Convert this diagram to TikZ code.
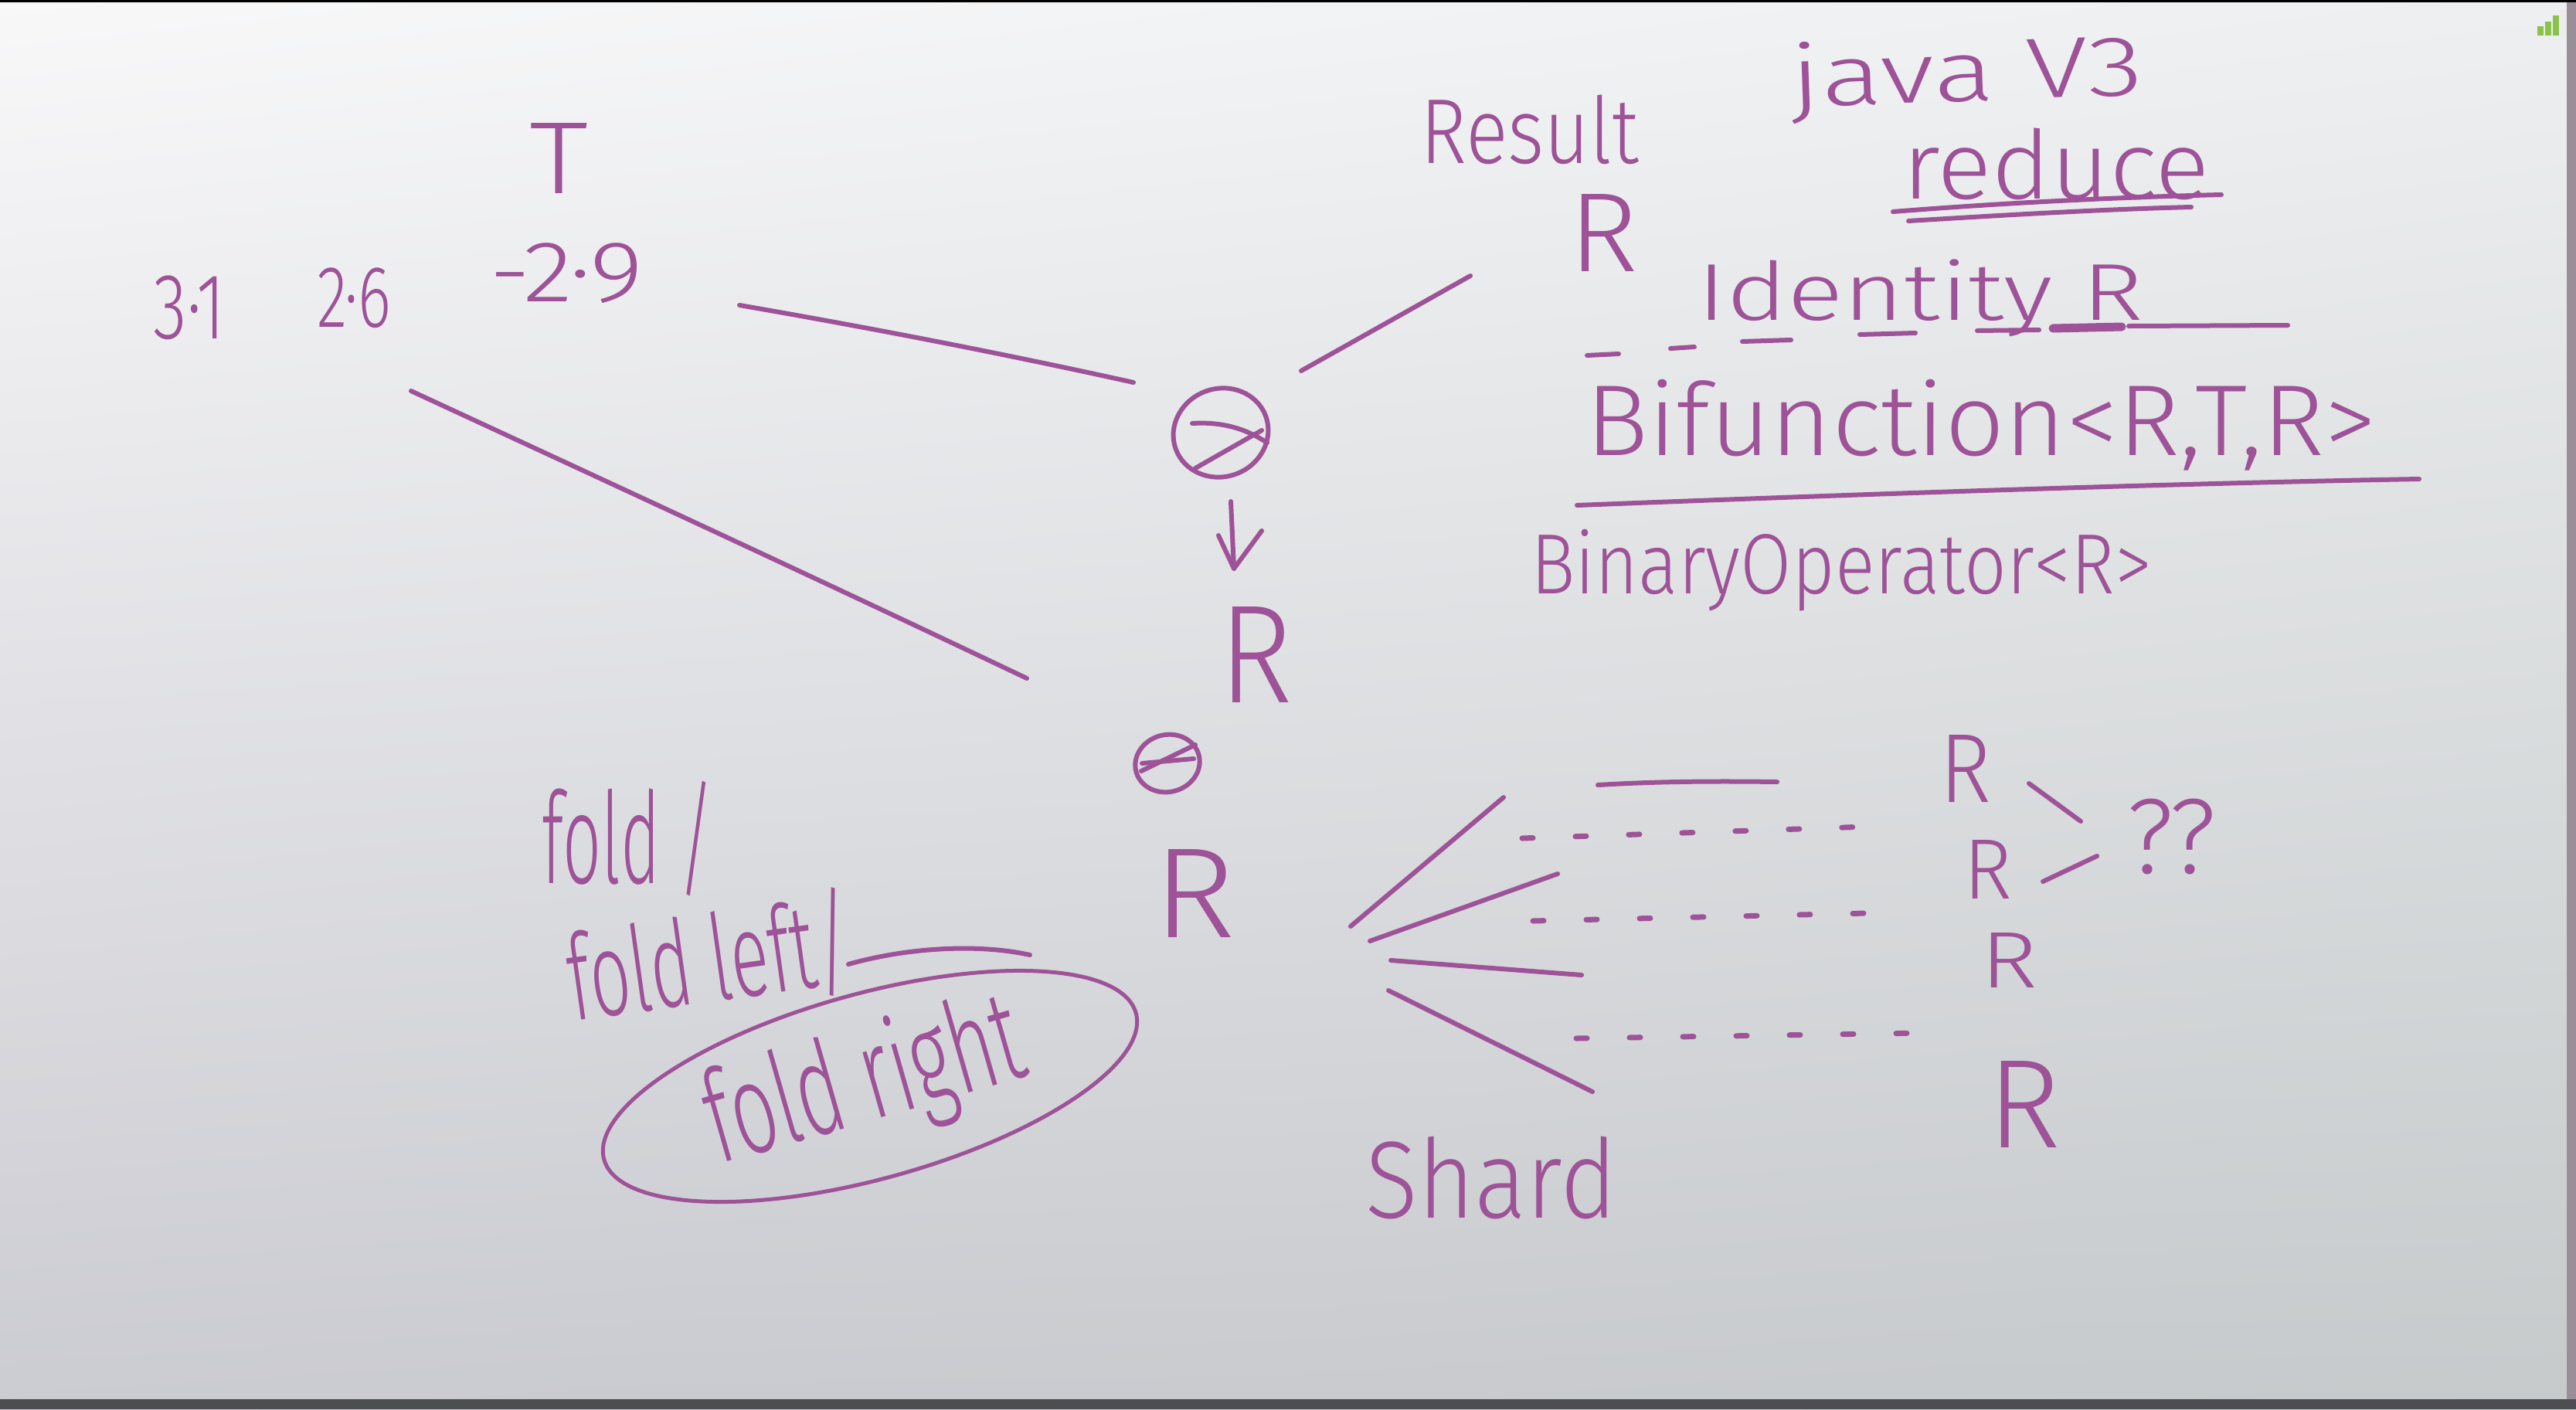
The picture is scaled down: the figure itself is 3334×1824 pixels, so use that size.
\documentclass[tikz,border=0pt]{standalone}
\usepackage{fontspec}
\usepackage{graphicx}
\usetikzlibrary{shadings}
\newfontfamily\handfont{Fira Sans Light}
\definecolor{ink}{HTML}{9E5298}
\definecolor{bgTL}{HTML}{F8F8F9}
\definecolor{bgTR}{HTML}{EDEFF0}
\definecolor{bgBL}{HTML}{CBCBD2}
\definecolor{bgBR}{HTML}{C6CACB}
\definecolor{edgeband}{HTML}{9A8F99}
\definecolor{bottombar}{HTML}{4C4E51}
\definecolor{signal}{HTML}{8BC34A}
\newcommand\handbox[3]{\resizebox*{#1pt}{#2pt}{#3}}
\begin{document}
\begin{tikzpicture}[x=1pt,y=-1pt,
  txt/.style={text=ink, inner sep=0pt, font=\handfont\fontsize{100}{110}\selectfont},
  stroke/.style={draw=ink, line width=6pt, line cap=round, line join=round},
  dotline/.style={draw=ink, line width=7pt, line cap=round, dash pattern=on 14pt off 55pt}]
\useasboundingbox (0,0) rectangle (3334,1824);
% whiteboard background
\shade[upper left=bgTL, upper right=bgTR, lower left=bgBL, lower right=bgBR] (0,0) rectangle (3334,1824);
\fill[edgeband] (3322,0) rectangle (3334,1812);
\fill[black] (0,0) rectangle (3334,3);
\fill[bottombar] (0,1811) rectangle (3334,1824);
% signal icon
\fill[gray!15] (3313,12) rectangle (3322,46);
\fill[signal] (3284,34) rectangle (3292,46);
\fill[signal] (3294,28) rectangle (3302,46);
\fill[signal] (3304,20) rectangle (3312,46);

% ---- left: input values
\node[txt] (T) at (723,205) {\handbox{76}{91}{T}};
\node[txt] (v1) at (245,398) {\handbox{93}{83}{3·1}};
\node[txt] (v2) at (458,386) {\handbox{96}{78}{2·6}};
\node[txt] (v3) at (733,354) {\handbox{199}{78}{-2·9}};

% ---- result
\node[txt] (result) at (1980,168) {\handbox{283}{90}{Result}};
\node[txt] (Rtop) at (2075,301) {\handbox{90}{100}{R}};

% ---- java notes
\node[txt, rotate=2] (java) at (2546,100) {\handbox{457}{106}{java V3}};
\node[txt] (reduce) at (2661,212) {\handbox{398}{93}{reduce}};
\draw[stroke] (2450,274) .. controls (2600,262) and (2750,255) .. (2875,252);
\draw[stroke] (2470,286) .. controls (2600,278) and (2720,271) .. (2836,268);
\node[txt] (ident) at (2485,386) {\handbox{578}{100}{Identity R}};
\draw[stroke] (2054,460) -- (2095,458);
\draw[stroke] (2162,451) -- (2193,449);
\draw[stroke] (2255,442) -- (2318,440);
\draw[stroke] (2407,433) -- (2479,431);
\draw[stroke] (2559,428) -- (2639,427);
\draw[stroke, line width=11pt] (2657,425) -- (2746,423);
\draw[stroke] (2755,422) -- (2961,421);
\node[txt] (bif) at (2564,550) {\handbox{1024}{118}{Bifunction<R,T,R>}};
\draw[stroke] (2041,654) .. controls (2400,640) and (2800,626) .. (3131,620);
\node[txt] (binop) at (2383,738) {\handbox{804}{106}{BinaryOperator<R>}};

% ---- lines from values to combiner
\draw[stroke] (957,395) .. controls (1130,425) and (1300,458) .. (1467,495);
\draw[stroke] (532,506) .. controls (800,630) and (1060,750) .. (1329,878);
\draw[stroke] (1684,480) -- (1903,357);

% ---- combiner column
\draw[stroke] (1580,560) ellipse [x radius=62pt, y radius=57pt, rotate=20];
\draw[stroke] (1543,548) .. controls (1590,545) and (1620,560) .. (1640,573);
\draw[stroke] (1547,606) -- (1633,557);
\draw[stroke] (1593,649) -- (1597,736);
\draw[stroke] (1577,693) -- (1597,736) -- (1633,687);
\node[txt] (Rmid) at (1625,847) {\handbox{96}{124}{R}};
\draw[stroke] (1511,988) ellipse [x radius=42pt, y radius=37pt, rotate=15];
\draw[stroke] (1477,998) -- (1547,964);
\draw[stroke] (1478,988) -- (1545,982);
\node[txt] (Rlow) at (1546,1156) {\handbox{107}{114}{R}};

% ---- fold variants
\node[txt] (fold) at (813,1085) {\handbox{223}{149}{fold /}};
\node[txt, rotate=8] (foldleft) at (918,1242) {\handbox{370}{140}{fold left/}};
\draw[stroke] (1098,1248) .. controls (1180,1225) and (1270,1222) .. (1333,1236);
\node[txt, rotate=16] (foldright) at (1120,1405) {\handbox{420}{160}{fold right}};
\draw[stroke, line width=5pt] (1126,1406) ellipse [x radius=357pt, y radius=120pt, rotate=15.4];

% ---- shards
\draw[stroke] (1748,1199) -- (1946,1032);
\draw[stroke] (1773,1218) -- (2016,1131);
\draw[stroke] (1800,1243) -- (2047,1262);
\draw[stroke] (1797,1282) -- (2061,1413);
\draw[stroke] (2068,1016) .. controls (2150,1011) and (2230,1011) .. (2300,1012);
\draw[dotline] (1970,1085) -- (2416,1070);
\draw[dotline] (1984,1192) -- (2458,1181);
\draw[dotline] (2040,1344) -- (2489,1337);
\node[txt] (shard) at (1930,1525) {\handbox{325}{107}{Shard}};

% ---- partial results
\node[txt] (R1) at (2544,995) {\handbox{67}{87}{R}};
\node[txt] (R2) at (2573,1125) {\handbox{63}{76}{R}};
\node[txt] (R3) at (2600,1243) {\handbox{74}{71}{R}};
\node[txt] (R4) at (2620,1429) {\handbox{95}{112}{R}};
\draw[stroke] (2626,1014) -- (2693,1063);
\draw[stroke] (2644,1141) -- (2714,1108);
\node[txt] (qq) at (2810,1083) {\handbox{116}{98}{??}};
\end{tikzpicture}
\end{document}
